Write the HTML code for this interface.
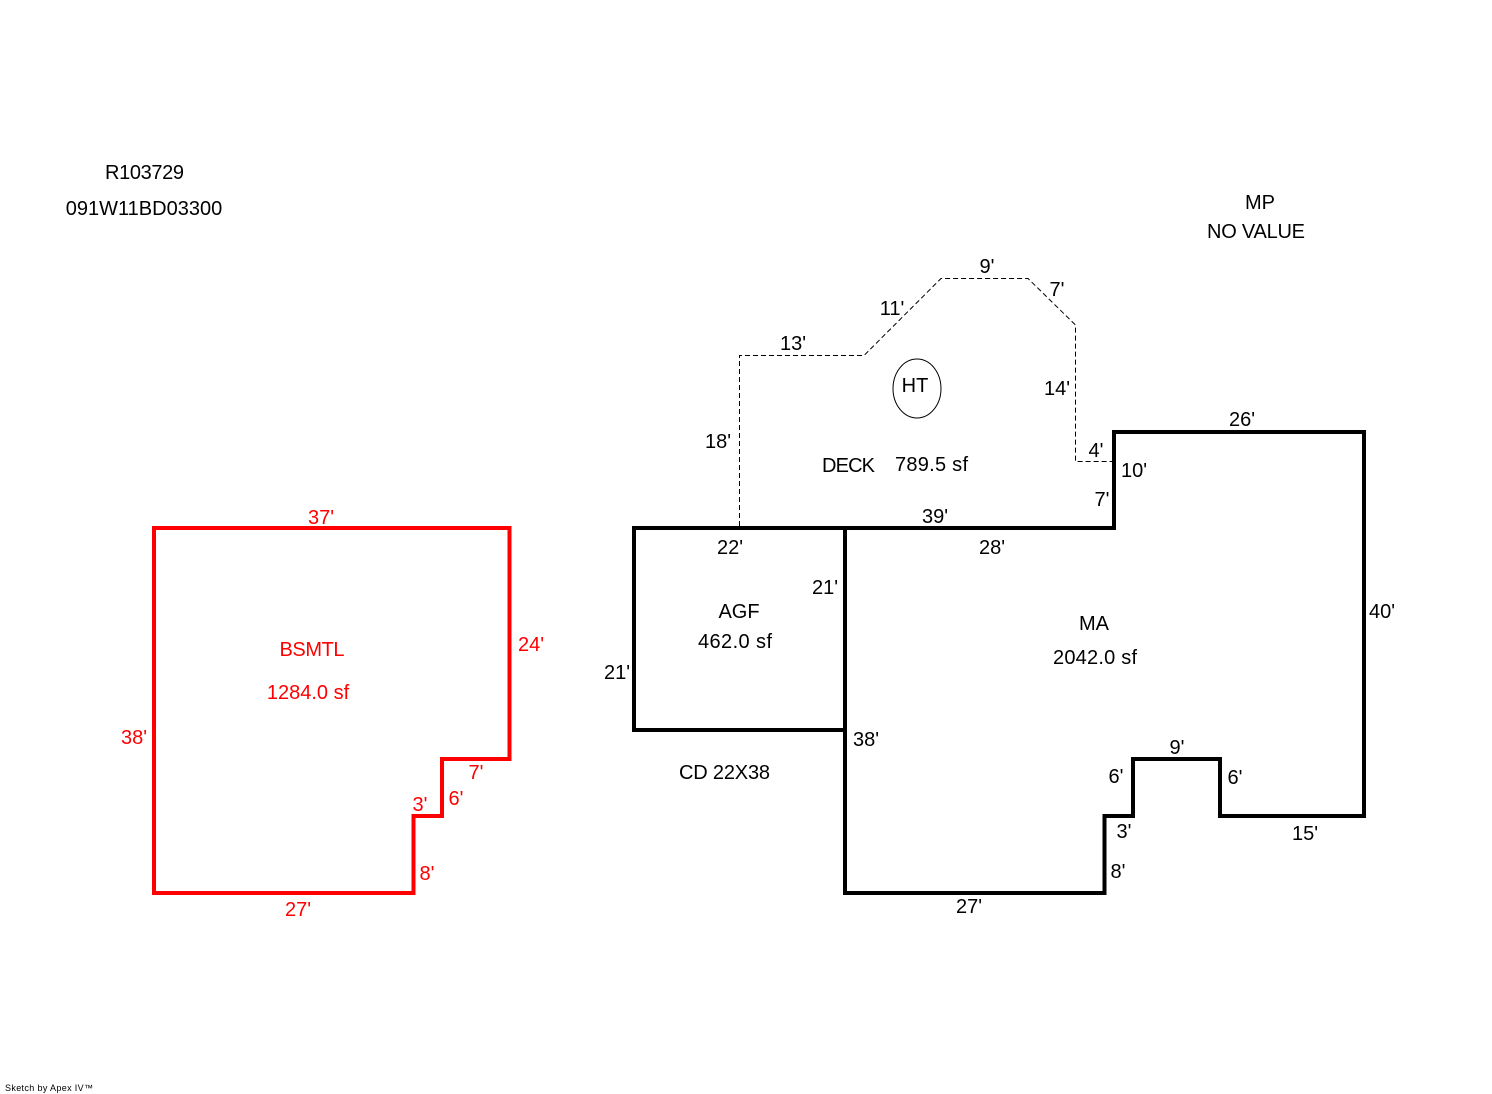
<!DOCTYPE html>
<html><head><meta charset="utf-8"><style>
html,body{margin:0;padding:0;background:#fff}
svg{display:block}
text{font-family:"Liberation Sans",Arial,sans-serif;font-size:20px;fill:#000;text-anchor:middle}
.r text,text.r{fill:#f00}
</style></head><body>
<svg width="1492" height="1094" viewBox="0 0 1492 1094" xmlns="http://www.w3.org/2000/svg">
<rect width="1492" height="1094" fill="#fff"/>
<path d="M154 528H509.500V759H442V816H413.500V893H154Z" fill="none" stroke="#f00" stroke-width="4"/>
<path d="M845 528H1114V432H1364V816H1220V759H1133V816H1104.500V893H845Z" fill="none" stroke="#000" stroke-width="4"/>
<path d="M845 528H634V730H845" fill="none" stroke="#000" stroke-width="4"/>
<path d="M739.500 526V355.500H864L941 278.500H1028L1075.500 325V461.500H1113" fill="none" stroke="#000" stroke-width="1" stroke-dasharray="5 3"/>
<ellipse cx="917" cy="388.500" rx="24" ry="29.500" fill="none" stroke="#000" stroke-width="1"/>
<g>
<text x="144.500" y="179" textLength="79" lengthAdjust="spacing">R103729</text>
<text x="144" y="215">091W11BD03300</text>
<text x="1260" y="209">MP</text>
<text x="1256" y="238" textLength="98" lengthAdjust="spacing">NO VALUE</text>
<text x="987" y="273">9'</text>
<text x="1057" y="296">7'</text>
<text x="892" y="315">11'</text>
<text x="793" y="350">13'</text>
<text x="915" y="392">HT</text>
<text x="1057" y="395">14'</text>
<text x="718" y="448">18'</text>
<text x="1242" y="426">26'</text>
<text x="1096" y="457">4'</text>
<text x="1134" y="477">10'</text>
<text x="848.500" y="472" textLength="53" lengthAdjust="spacing">DECK</text>
<text x="931.500" y="471" textLength="73" lengthAdjust="spacing">789.5 sf</text>
<text x="1102" y="506">7'</text>
<text x="935" y="523">39'</text>
<text x="730" y="554">22'</text>
<text x="992" y="554">28'</text>
<text x="825" y="594">21'</text>
<text x="739" y="618">AGF</text>
<text x="735" y="648" textLength="74" lengthAdjust="spacing">462.0 sf</text>
<text x="1094" y="630">MA</text>
<text x="1095" y="664" textLength="84" lengthAdjust="spacing">2042.0 sf</text>
<text x="1382" y="618">40'</text>
<text x="617" y="679">21'</text>
<text x="866" y="746">38'</text>
<text x="1177" y="754">9'</text>
<text x="724.500" y="779" textLength="91" lengthAdjust="spacing">CD 22X38</text>
<text x="1116" y="783">6'</text>
<text x="1235" y="784">6'</text>
<text x="1124" y="838">3'</text>
<text x="1305" y="840">15'</text>
<text x="1118" y="878">8'</text>
<text x="969" y="913">27'</text>
</g>
<g class="r">
<text x="321" y="524">37'</text>
<text x="531" y="651">24'</text>
<text x="312" y="656" textLength="65" lengthAdjust="spacing">BSMTL</text>
<text x="308" y="699">1284.0 sf</text>
<text x="134" y="744">38'</text>
<text x="476" y="779">7'</text>
<text x="456" y="805">6'</text>
<text x="420" y="811">3'</text>
<text x="427" y="880">8'</text>
<text x="298" y="916">27'</text>
</g>
<text x="5" y="1091" textLength="88" lengthAdjust="spacing" style="font-size:9px;text-anchor:start">Sketch by Apex IV™</text>
</svg>
</body></html>
